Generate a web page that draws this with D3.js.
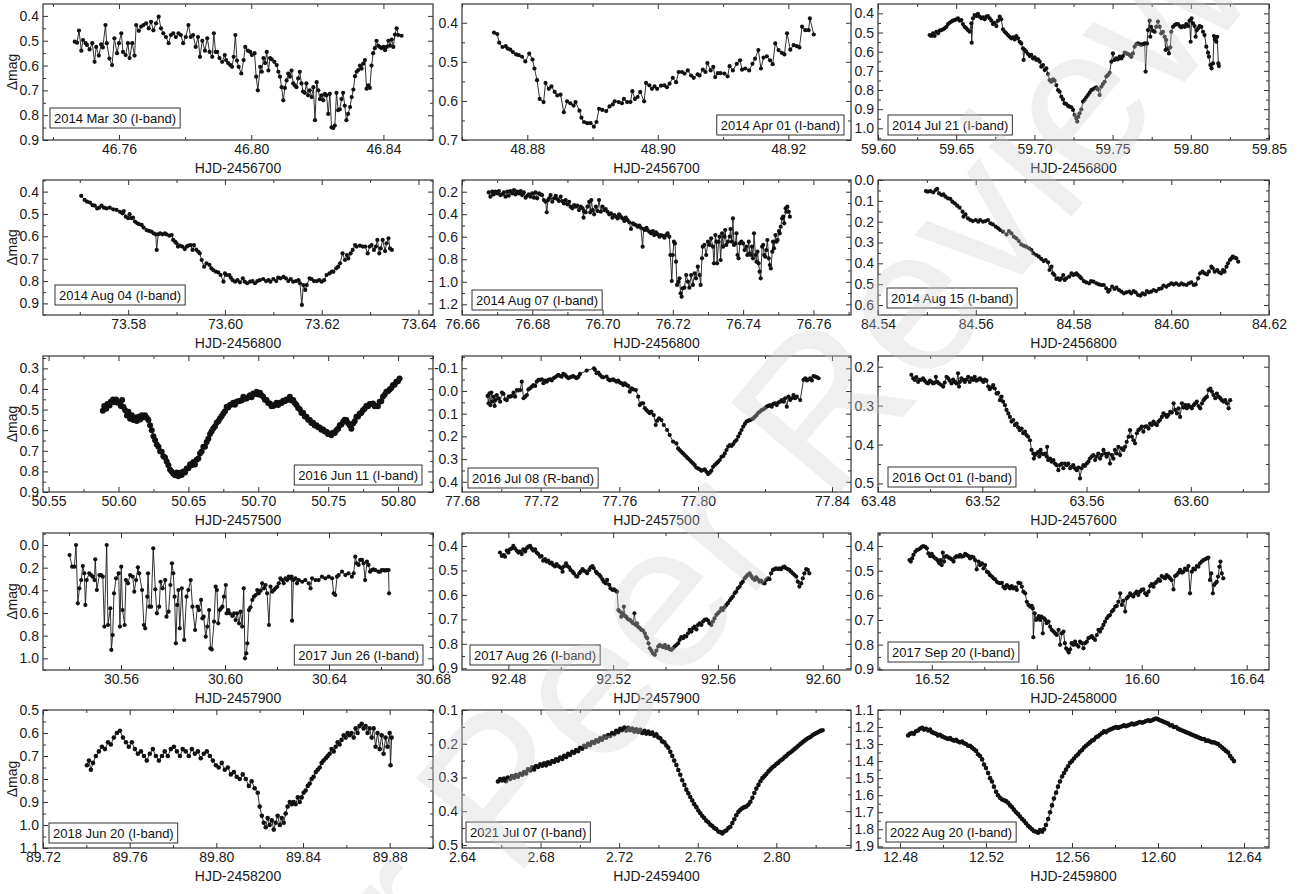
<!DOCTYPE html>
<html>
<head>
<meta charset="utf-8">
<script src="https://cdn.jsdelivr.net/npm/d3@7"></script>
<style>
  body { margin: 0; background: #fff; }
  text { font-family: "Liberation Sans", Arial, Helvetica, sans-serif; }
</style>
</head>
<body>
<svg id="fig" width="1311" height="894"></svg>
<script>
// ---- Light curves: [HJD offset, delta magnitude] ----
const mar30 = [[46.7466,0.504],[46.7473,0.508],[46.7479,0.459],[46.7486,0.54],[46.7491,0.497],[46.7499,0.51],[46.7503,0.517],[46.7511,0.535],[46.7519,0.51],[46.7526,0.585],[46.7531,0.525],[46.7539,0.56],[46.7546,0.515],[46.7551,0.527],[46.7559,0.437],[46.7563,0.51],[46.7571,0.572],[46.7579,0.598],[46.7586,0.49],[46.7594,0.55],[46.76,0.51],[46.7607,0.47],[46.7612,0.545],[46.762,0.558],[46.7627,0.51],[46.7632,0.57],[46.764,0.51],[46.7647,0.56],[46.7652,0.437],[46.766,0.46],[46.7667,0.443],[46.7674,0.437],[46.7682,0.43],[46.769,0.45],[46.7697,0.424],[46.7704,0.458],[46.7712,0.43],[46.772,0.403],[46.7727,0.45],[46.7734,0.47],[46.7742,0.485],[46.775,0.51],[46.7757,0.477],[46.7764,0.47],[46.7772,0.485],[46.778,0.47],[46.7787,0.477],[46.7794,0.51],[46.7802,0.485],[46.781,0.437],[46.7817,0.485],[46.7824,0.477],[46.7832,0.525],[46.7839,0.485],[46.7845,0.565],[46.7852,0.5],[46.786,0.54],[46.7867,0.49],[46.7874,0.545],[46.7882,0.565],[46.7887,0.47],[46.7892,0.545],[46.7897,0.545],[46.7904,0.57],[46.7912,0.585],[46.792,0.558],[46.7924,0.578],[46.793,0.59],[46.7937,0.598],[46.7942,0.605],[46.7947,0.565],[46.7952,0.477],[46.7957,0.58],[46.7962,0.605],[46.797,0.632],[46.7977,0.578],[46.7982,0.525],[46.799,0.54],[46.7997,0.545],[46.8002,0.558],[46.801,0.55],[46.8015,0.645],[46.802,0.7],[46.8027,0.605],[46.8032,0.625],[46.8037,0.57],[46.8042,0.59],[46.8047,0.545],[46.8052,0.62],[46.8057,0.57],[46.8062,0.575],[46.807,0.585],[46.8077,0.598],[46.8082,0.625],[46.8087,0.645],[46.8092,0.687],[46.8097,0.74],[46.8102,0.69],[46.8107,0.66],[46.8112,0.632],[46.8117,0.645],[46.8122,0.62],[46.8127,0.672],[46.8132,0.68],[46.8137,0.687],[46.8142,0.652],[46.8147,0.625],[46.8152,0.672],[46.8157,0.705],[46.8162,0.71],[46.8167,0.672],[46.8172,0.72],[46.8177,0.7],[46.8183,0.727],[46.8188,0.687],[46.8193,0.82],[46.8198,0.667],[46.8203,0.7],[46.8208,0.735],[46.8213,0.72],[46.8218,0.74],[46.8223,0.714],[46.8228,0.72],[46.8233,0.795],[46.8238,0.714],[46.8243,0.849],[46.8248,0.852],[46.8253,0.842],[46.8258,0.71],[46.8263,0.78],[46.8268,0.776],[46.8273,0.735],[46.8278,0.71],[46.8283,0.762],[46.8288,0.82],[46.8293,0.795],[46.8299,0.767],[46.8304,0.727],[46.8309,0.697],[46.8314,0.643],[46.8319,0.625],[46.8324,0.618],[46.8329,0.6],[46.8334,0.612],[46.8339,0.592],[46.8344,0.578],[46.8349,0.693],[46.8354,0.68],[46.8359,0.69],[46.8364,0.6],[46.8369,0.55],[46.8374,0.53],[46.8379,0.5],[46.8384,0.52],[46.8389,0.525],[46.8394,0.53],[46.84,0.525],[46.8405,0.538],[46.841,0.525],[46.8415,0.5],[46.842,0.52],[46.8425,0.495],[46.843,0.525],[46.8435,0.475],[46.844,0.45],[46.8445,0.477],[46.8455,0.48]];

const apr01 = [[48.8749,0.425],[48.8754,0.429],[48.8757,0.451],[48.8762,0.462],[48.8767,0.460],[48.8770,0.466],[48.8774,0.469],[48.8778,0.475],[48.8783,0.481],[48.8787,0.483],[48.8792,0.487],[48.8797,0.499],[48.8803,0.479],[48.8808,0.494],[48.8811,0.517],[48.8815,0.547],[48.8819,0.595],[48.8825,0.603],[48.8828,0.554],[48.8833,0.569],[48.8837,0.563],[48.8842,0.577],[48.8846,0.586],[48.8851,0.584],[48.8856,0.629],[48.8861,0.601],[48.8866,0.606],[48.8871,0.612],[48.8874,0.603],[48.8880,0.625],[48.8883,0.643],[48.8887,0.654],[48.8892,0.657],[48.8897,0.657],[48.8902,0.666],[48.8906,0.654],[48.8910,0.620],[48.8915,0.623],[48.8921,0.626],[48.8926,0.614],[48.8931,0.609],[48.8934,0.601],[48.8940,0.603],[48.8945,0.606],[48.8948,0.595],[48.8953,0.603],[48.8958,0.603],[48.8961,0.575],[48.8965,0.595],[48.8969,0.590],[48.8973,0.577],[48.8979,0.601],[48.8982,0.554],[48.8987,0.560],[48.8991,0.569],[48.8995,0.563],[48.8999,0.569],[48.9005,0.561],[48.9010,0.560],[48.9014,0.565],[48.9018,0.556],[48.9023,0.541],[48.9028,0.552],[48.9032,0.526],[48.9037,0.526],[48.9041,0.530],[48.9046,0.522],[48.9051,0.535],[48.9055,0.541],[48.9061,0.532],[48.9064,0.535],[48.9069,0.520],[48.9073,0.526],[48.9076,0.503],[48.9081,0.522],[48.9085,0.513],[48.9088,0.539],[48.9092,0.529],[48.9096,0.529],[48.9102,0.530],[48.9107,0.537],[48.9110,0.511],[48.9115,0.522],[48.9121,0.505],[48.9126,0.496],[48.9129,0.520],[48.9134,0.517],[48.9140,0.522],[48.9145,0.505],[48.9149,0.492],[48.9154,0.470],[48.9158,0.517],[48.9162,0.489],[48.9167,0.486],[48.9172,0.496],[48.9176,0.506],[48.9180,0.453],[48.9185,0.470],[48.9190,0.477],[48.9194,0.481],[48.9198,0.427],[48.9203,0.469],[48.9208,0.457],[48.9213,0.460],[48.9217,0.463],[48.9221,0.410],[48.9226,0.419],[48.9231,0.419],[48.9233,0.389],[48.9239,0.430]];

const jul21 = [[59.6330,0.513],[59.6341,0.518],[59.6352,0.504],[59.6362,0.518],[59.6373,0.496],[59.6384,0.504],[59.6394,0.490],[59.6405,0.487],[59.6416,0.483],[59.6426,0.478],[59.6437,0.470],[59.6448,0.456],[59.6458,0.449],[59.6469,0.443],[59.6479,0.438],[59.6490,0.435],[59.6501,0.431],[59.6511,0.426],[59.6522,0.438],[59.6533,0.435],[59.6543,0.456],[59.6554,0.470],[59.6565,0.478],[59.6575,0.487],[59.6586,0.496],[59.6597,0.452],[59.6599,0.553],[59.6607,0.426],[59.6618,0.409],[59.6629,0.414],[59.6639,0.403],[59.6650,0.417],[59.6661,0.426],[59.6671,0.421],[59.6682,0.431],[59.6693,0.417],[59.6703,0.414],[59.6714,0.426],[59.6725,0.438],[59.6735,0.456],[59.6746,0.449],[59.6757,0.466],[59.6767,0.438],[59.6778,0.417],[59.6788,0.431],[59.6799,0.483],[59.6810,0.496],[59.6820,0.504],[59.6831,0.513],[59.6842,0.522],[59.6852,0.530],[59.6863,0.525],[59.6874,0.536],[59.6884,0.518],[59.6895,0.530],[59.6906,0.548],[59.6916,0.557],[59.6927,0.583],[59.6931,0.643],[59.6938,0.591],[59.6948,0.600],[59.6959,0.612],[59.6970,0.623],[59.6980,0.617],[59.6991,0.635],[59.7002,0.630],[59.7012,0.643],[59.7023,0.640],[59.7034,0.652],[59.7044,0.678],[59.7055,0.670],[59.7066,0.696],[59.7076,0.687],[59.7087,0.717],[59.7097,0.748],[59.7108,0.757],[59.7119,0.744],[59.7129,0.751],[59.7140,0.774],[59.7151,0.800],[59.7161,0.809],[59.7172,0.835],[59.7183,0.849],[59.7193,0.870],[59.7204,0.873],[59.7215,0.883],[59.7225,0.887],[59.7236,0.890],[59.7247,0.904],[59.7257,0.930],[59.7268,0.948],[59.7274,0.965],[59.7281,0.939],[59.7289,0.922],[59.7300,0.901],[59.7311,0.861],[59.7321,0.852],[59.7332,0.838],[59.7343,0.826],[59.7353,0.814],[59.7364,0.800],[59.7374,0.797],[59.7385,0.791],[59.7396,0.786],[59.7406,0.797],[59.7417,0.826],[59.7428,0.783],[59.7438,0.769],[59.7449,0.757],[59.7460,0.730],[59.7470,0.722],[59.7481,0.710],[59.7492,0.652],[59.7502,0.609],[59.7513,0.643],[59.7524,0.635],[59.7534,0.640],[59.7545,0.626],[59.7556,0.635],[59.7566,0.623],[59.7577,0.605],[59.7588,0.609],[59.7598,0.612],[59.7609,0.617],[59.7620,0.626],[59.7630,0.609],[59.7641,0.574],[59.7652,0.560],[59.7662,0.557],[59.7673,0.560],[59.7683,0.565],[59.7694,0.560],[59.7705,0.557],[59.7711,0.704],[59.7720,0.557],[59.7726,0.487],[59.7737,0.438],[59.7741,0.522],[59.7747,0.470],[59.7758,0.490],[59.7769,0.496],[59.7779,0.470],[59.7790,0.443],[59.7801,0.470],[59.7811,0.504],[59.7822,0.496],[59.7833,0.522],[59.7839,0.591],[59.7843,0.539],[59.7854,0.583],[59.7860,0.609],[59.7869,0.577],[59.7875,0.496],[59.7886,0.470],[59.7897,0.461],[59.7907,0.456],[59.7918,0.456],[59.7929,0.466],[59.7939,0.473],[59.7950,0.466],[59.7961,0.470],[59.7971,0.456],[59.7982,0.466],[59.7992,0.438],[59.7999,0.548],[59.8005,0.426],[59.8014,0.452],[59.8024,0.466],[59.8031,0.522],[59.8039,0.487],[59.8048,0.478],[59.8056,0.466],[59.8067,0.470],[59.8078,0.496],[59.8088,0.513],[59.8099,0.574],[59.8110,0.605],[59.8116,0.626],[59.8125,0.670],[59.8133,0.687],[59.8142,0.661],[59.8148,0.518],[59.8154,0.536],[59.8163,0.548],[59.8169,0.522],[59.8176,0.661],[59.8180,0.675]];

const aug04 = [[73.5703,0.419],[73.5710,0.437],[73.5715,0.445],[73.5721,0.449],[73.5726,0.460],[73.5731,0.463],[73.5736,0.475],[73.5740,0.472],[73.5745,0.463],[73.5750,0.472],[73.5755,0.475],[73.5762,0.472],[73.5769,0.479],[73.5776,0.482],[73.5783,0.490],[73.5788,0.497],[73.5791,0.487],[73.5795,0.512],[73.5800,0.519],[73.5803,0.501],[73.5807,0.519],[73.5810,0.516],[73.5814,0.534],[73.5819,0.542],[73.5823,0.546],[73.5828,0.549],[73.5832,0.561],[73.5838,0.572],[73.5843,0.576],[73.5848,0.579],[73.5853,0.587],[73.5857,0.591],[73.5859,0.661],[73.5862,0.591],[73.5866,0.587],[73.5871,0.591],[73.5876,0.587],[73.5879,0.591],[73.5885,0.597],[73.5890,0.594],[73.5893,0.616],[73.5897,0.624],[73.5900,0.631],[73.5903,0.646],[73.5907,0.642],[73.5912,0.646],[73.5917,0.657],[73.5921,0.646],[73.5924,0.642],[73.5929,0.639],[73.5933,0.661],[73.5936,0.639],[73.5941,0.661],[73.5945,0.669],[73.5948,0.676],[73.5952,0.706],[73.5957,0.736],[73.5962,0.721],[73.5968,0.728],[73.5972,0.743],[73.5976,0.751],[73.5981,0.758],[73.5986,0.761],[73.5991,0.773],[73.5997,0.803],[73.6000,0.766],[73.6003,0.773],[73.6009,0.773],[73.6012,0.785],[73.6016,0.796],[73.6021,0.803],[73.6026,0.796],[73.6031,0.806],[73.6037,0.788],[73.6041,0.803],[73.6046,0.810],[73.6052,0.803],[73.6057,0.800],[73.6062,0.810],[73.6067,0.800],[73.6072,0.796],[73.6079,0.791],[73.6085,0.800],[73.6090,0.796],[73.6094,0.803],[73.6100,0.791],[73.6106,0.800],[73.6110,0.785],[73.6115,0.788],[73.6121,0.781],[73.6126,0.788],[73.6131,0.800],[73.6136,0.791],[73.6141,0.803],[73.6147,0.800],[73.6152,0.796],[73.6155,0.810],[73.6159,0.907],[73.6162,0.818],[73.6166,0.840],[73.6169,0.818],[73.6175,0.788],[73.6179,0.791],[73.6184,0.800],[73.6190,0.800],[73.6195,0.796],[73.6200,0.803],[73.6205,0.796],[73.6210,0.773],[73.6216,0.766],[73.6221,0.758],[73.6224,0.758],[73.6230,0.743],[73.6234,0.736],[73.6238,0.721],[73.6243,0.676],[73.6248,0.706],[73.6252,0.684],[73.6255,0.699],[73.6260,0.676],[73.6264,0.661],[73.6269,0.639],[73.6272,0.646],[73.6279,0.642],[73.6285,0.646],[73.6290,0.646],[73.6295,0.676],[73.6299,0.646],[73.6303,0.639],[73.6308,0.661],[73.6312,0.646],[73.6315,0.616],[73.6319,0.676],[73.6322,0.654],[73.6326,0.616],[73.6331,0.666],[73.6334,0.631],[73.6338,0.609],[73.6341,0.654],[73.6345,0.661]];

const aug07 = [[76.6676,0.206],[76.6681,0.244],[76.6686,0.200],[76.6690,0.224],[76.6695,0.200],[76.6700,0.215],[76.6705,0.194],[76.6709,0.230],[76.6714,0.224],[76.6719,0.206],[76.6724,0.244],[76.6729,0.200],[76.6733,0.236],[76.6738,0.194],[76.6743,0.215],[76.6748,0.185],[76.6752,0.224],[76.6757,0.200],[76.6762,0.215],[76.6767,0.194],[76.6771,0.230],[76.6776,0.206],[76.6781,0.253],[76.6786,0.236],[76.6790,0.224],[76.6795,0.244],[76.6800,0.215],[76.6805,0.253],[76.6809,0.206],[76.6814,0.259],[76.6819,0.215],[76.6824,0.224],[76.6828,0.230],[76.6833,0.274],[76.6838,0.289],[76.6841,0.383],[76.6845,0.274],[76.6848,0.259],[76.6852,0.230],[76.6857,0.289],[76.6862,0.259],[76.6867,0.236],[76.6871,0.265],[76.6876,0.283],[76.6881,0.244],[76.6886,0.283],[76.6890,0.304],[76.6895,0.274],[76.6900,0.312],[76.6905,0.289],[76.6909,0.333],[76.6914,0.348],[76.6919,0.318],[76.6924,0.333],[76.6928,0.324],[76.6933,0.363],[76.6938,0.333],[76.6943,0.348],[76.6946,0.431],[76.6947,0.372],[76.6952,0.383],[76.6957,0.333],[76.6962,0.289],[76.6965,0.383],[76.6968,0.274],[76.6972,0.363],[76.6976,0.401],[76.6981,0.333],[76.6986,0.372],[76.6990,0.274],[76.6995,0.378],[76.7000,0.333],[76.7005,0.363],[76.7009,0.354],[76.7014,0.378],[76.7019,0.401],[76.7024,0.392],[76.7028,0.431],[76.7033,0.407],[76.7038,0.422],[76.7043,0.437],[76.7047,0.401],[76.7052,0.422],[76.7057,0.437],[76.7062,0.460],[76.7066,0.431],[76.7071,0.452],[76.7076,0.472],[76.7081,0.531],[76.7086,0.481],[76.7090,0.490],[76.7095,0.496],[76.7100,0.511],[76.7105,0.502],[76.7109,0.520],[76.7114,0.688],[76.7117,0.531],[76.7121,0.540],[76.7125,0.520],[76.7128,0.540],[76.7133,0.555],[76.7138,0.570],[76.7143,0.549],[76.7147,0.585],[76.7152,0.561],[76.7157,0.579],[76.7162,0.599],[76.7166,0.585],[76.7171,0.591],[76.7176,0.608],[76.7181,0.585],[76.7185,0.570],[76.7190,0.599],[76.7193,0.762],[76.7197,0.993],[76.7200,0.762],[76.7203,0.644],[76.7206,0.659],[76.7209,0.821],[76.7212,1.028],[76.7216,0.999],[76.7219,0.969],[76.7222,1.102],[76.7225,1.132],[76.7228,1.058],[76.7233,1.052],[76.7238,0.940],[76.7243,0.999],[76.7247,1.052],[76.7252,0.940],[76.7257,1.028],[76.7262,0.925],[76.7266,0.969],[76.7271,0.866],[76.7276,0.940],[76.7279,1.028],[76.7283,0.792],[76.7285,0.688],[76.7290,0.673],[76.7295,0.762],[76.7300,0.644],[76.7305,0.673],[76.7309,0.614],[76.7314,0.688],[76.7317,0.836],[76.7321,0.585],[76.7324,0.644],[76.7326,0.836],[76.7330,0.644],[76.7333,0.599],[76.7336,0.807],[76.7340,0.570],[76.7343,0.688],[76.7347,0.599],[76.7349,0.540],[76.7352,0.673],[76.7357,0.644],[76.7362,0.599],[76.7364,0.531],[76.7368,0.644],[76.7371,0.437],[76.7374,0.673],[76.7378,0.659],[76.7381,0.570],[76.7384,0.762],[76.7387,0.792],[76.7391,0.659],[76.7395,0.644],[76.7400,0.659],[76.7404,0.718],[76.7409,0.688],[76.7412,0.762],[76.7416,0.644],[76.7419,0.747],[76.7422,0.762],[76.7425,0.688],[76.7428,0.792],[76.7431,0.570],[76.7435,0.762],[76.7438,0.821],[76.7441,0.733],[76.7444,0.836],[76.7447,0.910],[76.7450,0.969],[76.7454,0.688],[76.7457,0.673],[76.7460,0.762],[76.7463,0.777],[76.7466,0.718],[76.7469,0.629],[76.7473,0.792],[76.7476,0.851],[76.7479,0.881],[76.7483,0.733],[76.7485,0.644],[76.7488,0.703],[76.7492,0.585],[76.7495,0.644],[76.7498,0.629],[76.7502,0.549],[76.7504,0.570],[76.7507,0.511],[76.7511,0.437],[76.7514,0.422],[76.7517,0.481],[76.7521,0.348],[76.7523,0.378],[76.7526,0.333],[76.7530,0.378],[76.7533,0.422]];

const aug15 = [[84.5498,0.053],[84.5502,0.056],[84.5507,0.053],[84.5513,0.059],[84.5518,0.048],[84.5521,0.043],[84.5525,0.064],[84.5530,0.072],[84.5534,0.069],[84.5538,0.080],[84.5543,0.088],[84.5548,0.091],[84.5552,0.104],[84.5557,0.112],[84.5562,0.123],[84.5567,0.133],[84.5573,0.152],[84.5575,0.176],[84.5579,0.165],[84.5584,0.184],[84.5589,0.192],[84.5594,0.197],[84.5600,0.192],[84.5605,0.200],[84.5609,0.192],[84.5615,0.200],[84.5620,0.197],[84.5625,0.192],[84.5630,0.208],[84.5635,0.213],[84.5641,0.224],[84.5646,0.232],[84.5650,0.240],[84.5656,0.248],[84.5663,0.261],[84.5668,0.245],[84.5673,0.256],[84.5678,0.272],[84.5683,0.280],[84.5688,0.293],[84.5693,0.309],[84.5698,0.315],[84.5703,0.320],[84.5709,0.328],[84.5714,0.336],[84.5718,0.352],[84.5724,0.360],[84.5729,0.368],[84.5734,0.379],[84.5739,0.389],[84.5743,0.384],[84.5748,0.395],[84.5751,0.432],[84.5755,0.416],[84.5758,0.448],[84.5761,0.456],[84.5765,0.475],[84.5768,0.472],[84.5772,0.480],[84.5775,0.472],[84.5779,0.456],[84.5782,0.480],[84.5785,0.472],[84.5791,0.464],[84.5796,0.448],[84.5799,0.456],[84.5802,0.453],[84.5806,0.448],[84.5809,0.456],[84.5813,0.464],[84.5816,0.472],[84.5821,0.485],[84.5826,0.491],[84.5832,0.496],[84.5836,0.485],[84.5841,0.488],[84.5847,0.496],[84.5852,0.501],[84.5857,0.504],[84.5862,0.504],[84.5867,0.520],[84.5871,0.536],[84.5874,0.528],[84.5879,0.512],[84.5884,0.523],[84.5888,0.517],[84.5893,0.528],[84.5898,0.536],[84.5903,0.544],[84.5908,0.539],[84.5914,0.536],[84.5918,0.544],[84.5923,0.533],[84.5927,0.539],[84.5932,0.552],[84.5937,0.555],[84.5941,0.544],[84.5946,0.549],[84.5950,0.533],[84.5954,0.539],[84.5959,0.536],[84.5964,0.528],[84.5969,0.533],[84.5975,0.523],[84.5980,0.520],[84.5984,0.507],[84.5990,0.512],[84.5995,0.504],[84.6000,0.496],[84.6005,0.501],[84.6010,0.496],[84.6016,0.504],[84.6021,0.496],[84.6025,0.501],[84.6031,0.504],[84.6036,0.496],[84.6041,0.491],[84.6046,0.504],[84.6050,0.501],[84.6055,0.472],[84.6059,0.448],[84.6064,0.440],[84.6068,0.448],[84.6073,0.453],[84.6077,0.440],[84.6082,0.416],[84.6085,0.424],[84.6089,0.440],[84.6094,0.432],[84.6098,0.443],[84.6102,0.448],[84.6106,0.432],[84.6109,0.440],[84.6113,0.416],[84.6116,0.400],[84.6120,0.384],[84.6123,0.376],[84.6126,0.368],[84.6130,0.373],[84.6133,0.376],[84.6137,0.392]];

const jun11 = [[50.5888,0.506],[50.5898,0.483],[50.5912,0.496],[50.5921,0.473],[50.5936,0.480],[50.5945,0.462],[50.5960,0.451],[50.5969,0.464],[50.5983,0.451],[50.5993,0.467],[50.6007,0.467],[50.6017,0.483],[50.6026,0.454],[50.6036,0.488],[50.6048,0.503],[50.6060,0.529],[50.6071,0.511],[50.6083,0.545],[50.6095,0.527],[50.6107,0.551],[50.6119,0.538],[50.6131,0.556],[50.6143,0.535],[50.6155,0.548],[50.6167,0.527],[50.6179,0.537],[50.6190,0.527],[50.6202,0.540],[50.6214,0.551],[50.6226,0.576],[50.6238,0.600],[50.6250,0.630],[50.6262,0.649],[50.6274,0.670],[50.6286,0.681],[50.6298,0.702],[50.6309,0.705],[50.6321,0.726],[50.6333,0.733],[50.6345,0.752],[50.6357,0.770],[50.6369,0.792],[50.6381,0.802],[50.6393,0.812],[50.6405,0.819],[50.6417,0.805],[50.6428,0.824],[50.6440,0.806],[50.6452,0.818],[50.6464,0.800],[50.6476,0.805],[50.6488,0.786],[50.6500,0.785],[50.6512,0.765],[50.6524,0.770],[50.6536,0.754],[50.6547,0.766],[50.6559,0.743],[50.6571,0.738],[50.6583,0.713],[50.6595,0.703],[50.6607,0.681],[50.6619,0.680],[50.6631,0.657],[50.6643,0.642],[50.6655,0.619],[50.6666,0.606],[50.6678,0.592],[50.6690,0.582],[50.6702,0.564],[50.6714,0.557],[50.6726,0.543],[50.6738,0.532],[50.6750,0.519],[50.6762,0.508],[50.6774,0.486],[50.6785,0.490],[50.6797,0.478],[50.6809,0.475],[50.6821,0.467],[50.6833,0.476],[50.6845,0.462],[50.6857,0.460],[50.6869,0.457],[50.6881,0.456],[50.6893,0.438],[50.6904,0.447],[50.6916,0.446],[50.6928,0.440],[50.6940,0.430],[50.6952,0.440],[50.6964,0.422],[50.6976,0.424],[50.6988,0.413],[50.7000,0.427],[50.7012,0.418],[50.7023,0.430],[50.7035,0.438],[50.7047,0.452],[50.7059,0.454],[50.7071,0.468],[50.7083,0.470],[50.7095,0.484],[50.7107,0.483],[50.7119,0.476],[50.7131,0.467],[50.7142,0.478],[50.7154,0.467],[50.7166,0.468],[50.7178,0.457],[50.7190,0.460],[50.7202,0.451],[50.7214,0.452],[50.7226,0.438],[50.7238,0.456],[50.7250,0.454],[50.7261,0.468],[50.7273,0.478],[50.7285,0.492],[50.7297,0.499],[50.7309,0.517],[50.7321,0.516],[50.7333,0.533],[50.7345,0.535],[50.7357,0.549],[50.7369,0.551],[50.7380,0.565],[50.7392,0.564],[50.7404,0.577],[50.7416,0.576],[50.7428,0.586],[50.7440,0.587],[50.7452,0.598],[50.7464,0.597],[50.7476,0.606],[50.7488,0.608],[50.7499,0.619],[50.7511,0.616],[50.7523,0.625],[50.7535,0.613],[50.7547,0.614],[50.7559,0.600],[50.7571,0.593],[50.7583,0.576],[50.7595,0.573],[50.7607,0.559],[50.7618,0.549],[50.7630,0.551],[50.7642,0.565],[50.7654,0.576],[50.7666,0.593],[50.7678,0.567],[50.7690,0.557],[50.7702,0.535],[50.7714,0.533],[50.7726,0.519],[50.7737,0.517],[50.7749,0.503],[50.7761,0.496],[50.7773,0.483],[50.7785,0.484],[50.7797,0.473],[50.7809,0.473],[50.7821,0.470],[50.7833,0.484],[50.7845,0.483],[50.7856,0.484],[50.7868,0.462],[50.7880,0.460],[50.7892,0.438],[50.7904,0.428],[50.7916,0.413],[50.7928,0.411],[50.7940,0.402],[50.7952,0.395],[50.7964,0.381],[50.7975,0.379],[50.7987,0.365],[50.7999,0.363],[50.8011,0.349]];

const jul08 = [[77.6930,0.022],[77.6935,0.054],[77.6940,0.010],[77.6944,0.062],[77.6949,0.007],[77.6954,0.047],[77.6961,0.025],[77.6966,0.066],[77.6971,0.040],[77.6977,0.018],[77.6986,0.032],[77.6994,0.047],[77.7003,0.007],[77.7011,0.013],[77.7020,0.037],[77.7028,0.040],[77.7037,0.025],[77.7045,0.025],[77.7054,0.022],[77.7062,0.007],[77.7070,0.025],[77.7079,-0.004],[77.7087,-0.002],[77.7096,-0.004],[77.7104,-0.041],[77.7113,0.032],[77.7121,0.025],[77.7130,0.018],[77.7138,-0.007],[77.7146,-0.012],[77.7155,-0.019],[77.7163,-0.026],[77.7172,-0.022],[77.7180,-0.041],[77.7189,-0.049],[77.7197,-0.049],[77.7206,-0.051],[77.7214,-0.034],[77.7223,-0.046],[77.7231,-0.041],[77.7239,-0.049],[77.7248,-0.051],[77.7256,-0.046],[77.7265,-0.056],[77.7273,-0.060],[77.7282,-0.066],[77.7290,-0.071],[77.7299,-0.066],[77.7307,-0.063],[77.7315,-0.075],[77.7324,-0.071],[77.7332,-0.063],[77.7341,-0.056],[77.7349,-0.060],[77.7358,-0.063],[77.7366,-0.066],[77.7375,-0.060],[77.7383,-0.056],[77.7392,-0.063],[77.7400,-0.075],[77.7434,-0.090],[77.7471,-0.100],[77.7476,-0.093],[77.7484,-0.078],[77.7493,-0.081],[77.7501,-0.071],[77.7510,-0.063],[77.7518,-0.060],[77.7535,-0.063],[77.7544,-0.051],[77.7552,-0.046],[77.7561,-0.049],[77.7569,-0.051],[77.7577,-0.046],[77.7586,-0.041],[77.7594,-0.046],[77.7603,-0.037],[77.7611,-0.034],[77.7620,-0.026],[77.7628,-0.034],[77.7637,-0.026],[77.7645,-0.022],[77.7653,0.003],[77.7662,-0.012],[77.7670,-0.007],[77.7684,-0.004],[77.7696,0.025],[77.7704,0.062],[77.7713,0.054],[77.7721,0.054],[77.7730,0.076],[77.7738,0.084],[77.7746,0.091],[77.7755,0.098],[77.7763,0.091],[77.7775,0.106],[77.7785,0.150],[77.7792,0.131],[77.7802,0.121],[77.7814,0.128],[77.7826,0.150],[77.7843,0.172],[77.7856,0.194],[77.7873,0.223],[77.7890,0.231],[77.7899,0.253],[77.7907,0.260],[77.7915,0.268],[77.7924,0.275],[77.7932,0.282],[77.7941,0.290],[77.7949,0.297],[77.7958,0.304],[77.7966,0.312],[77.7975,0.319],[77.7983,0.326],[77.7991,0.337],[77.8000,0.341],[77.8005,0.345],[77.8010,0.351],[77.8015,0.348],[77.8020,0.345],[77.8025,0.356],[77.8030,0.366],[77.8035,0.360],[77.8040,0.351],[77.8045,0.334],[77.8050,0.326],[77.8055,0.319],[77.8060,0.312],[77.8065,0.304],[77.8070,0.290],[77.8075,0.287],[77.8080,0.275],[77.8085,0.260],[77.8090,0.245],[77.8095,0.238],[77.8100,0.242],[77.8105,0.234],[77.8110,0.223],[77.8115,0.216],[77.8120,0.201],[77.8125,0.187],[77.8130,0.172],[77.8135,0.157],[77.8140,0.145],[77.8145,0.135],[77.8150,0.131],[77.8155,0.128],[77.8160,0.125],[77.8165,0.121],[77.8170,0.113],[77.8175,0.106],[77.8180,0.096],[77.8185,0.091],[77.8190,0.084],[77.8195,0.081],[77.8200,0.076],[77.8205,0.069],[77.8210,0.066],[77.8215,0.062],[77.8220,0.069],[77.8225,0.057],[77.8230,0.054],[77.8235,0.062],[77.8240,0.051],[77.8245,0.047],[77.8250,0.040],[77.8255,0.047],[77.8260,0.032],[77.8265,0.069],[77.8270,0.025],[77.8275,0.040],[77.8280,0.032],[77.8285,0.018],[77.8290,0.032],[77.8295,0.025],[77.8305,0.040],[77.8315,-0.049],[77.8320,-0.056],[77.8325,-0.046],[77.8330,-0.051],[77.8335,-0.056],[77.8340,-0.046],[77.8345,-0.066],[77.8350,-0.063],[77.8355,-0.060],[77.8360,-0.056]];

const oct01 = [[63.4928,0.221],[63.4935,0.230],[63.4941,0.234],[63.4947,0.227],[63.4954,0.239],[63.4960,0.234],[63.4967,0.233],[63.4973,0.230],[63.4979,0.236],[63.4986,0.241],[63.4992,0.243],[63.4999,0.236],[63.5005,0.239],[63.5011,0.243],[63.5018,0.241],[63.5022,0.226],[63.5027,0.239],[63.5034,0.243],[63.5043,0.247],[63.5050,0.251],[63.5056,0.241],[63.5063,0.226],[63.5069,0.230],[63.5075,0.236],[63.5082,0.243],[63.5088,0.233],[63.5095,0.239],[63.5101,0.243],[63.5107,0.217],[63.5111,0.251],[63.5114,0.239],[63.5120,0.230],[63.5127,0.234],[63.5133,0.239],[63.5139,0.233],[63.5146,0.226],[63.5152,0.239],[63.5159,0.230],[63.5165,0.234],[63.5171,0.226],[63.5178,0.236],[63.5184,0.233],[63.5191,0.230],[63.5197,0.234],[63.5204,0.239],[63.5210,0.233],[63.5216,0.236],[63.5223,0.251],[63.5229,0.258],[63.5236,0.253],[63.5242,0.247],[63.5248,0.256],[63.5255,0.269],[63.5261,0.267],[63.5268,0.286],[63.5274,0.277],[63.5280,0.290],[63.5287,0.299],[63.5293,0.311],[63.5300,0.320],[63.5306,0.329],[63.5312,0.341],[63.5319,0.337],[63.5325,0.350],[63.5332,0.346],[63.5338,0.356],[63.5344,0.363],[63.5351,0.359],[63.5357,0.371],[63.5364,0.367],[63.5370,0.376],[63.5376,0.380],[63.5383,0.389],[63.5389,0.414],[63.5396,0.423],[63.5398,0.436],[63.5402,0.427],[63.5408,0.423],[63.5415,0.419],[63.5419,0.431],[63.5424,0.414],[63.5428,0.423],[63.5434,0.425],[63.5441,0.423],[63.5447,0.431],[63.5449,0.406],[63.5453,0.440],[63.5460,0.436],[63.5466,0.444],[63.5473,0.440],[63.5479,0.449],[63.5485,0.453],[63.5492,0.466],[63.5498,0.453],[63.5505,0.449],[63.5511,0.461],[63.5517,0.449],[63.5524,0.453],[63.5530,0.449],[63.5537,0.461],[63.5543,0.457],[63.5549,0.453],[63.5556,0.461],[63.5562,0.466],[63.5569,0.459],[63.5575,0.487],[63.5581,0.461],[63.5588,0.453],[63.5594,0.455],[63.5601,0.449],[63.5607,0.444],[63.5613,0.436],[63.5620,0.431],[63.5626,0.427],[63.5633,0.440],[63.5639,0.431],[63.5645,0.423],[63.5652,0.436],[63.5658,0.427],[63.5665,0.414],[63.5671,0.423],[63.5677,0.431],[63.5684,0.423],[63.5690,0.449],[63.5697,0.427],[63.5703,0.436],[63.5709,0.414],[63.5716,0.423],[63.5722,0.406],[63.5729,0.427],[63.5735,0.410],[63.5742,0.414],[63.5748,0.406],[63.5754,0.393],[63.5761,0.380],[63.5767,0.363],[63.5774,0.380],[63.5780,0.389],[63.5786,0.397],[63.5793,0.371],[63.5799,0.363],[63.5806,0.359],[63.5812,0.354],[63.5818,0.367],[63.5825,0.354],[63.5831,0.353],[63.5838,0.359],[63.5844,0.346],[63.5850,0.350],[63.5857,0.341],[63.5863,0.347],[63.5870,0.350],[63.5876,0.341],[63.5882,0.337],[63.5889,0.329],[63.5895,0.320],[63.5902,0.324],[63.5908,0.329],[63.5914,0.324],[63.5921,0.316],[63.5927,0.318],[63.5934,0.294],[63.5940,0.311],[63.5947,0.320],[63.5953,0.307],[63.5959,0.329],[63.5966,0.294],[63.5972,0.305],[63.5979,0.299],[63.5985,0.307],[63.5991,0.299],[63.5998,0.303],[63.6004,0.307],[63.6011,0.299],[63.6017,0.294],[63.6023,0.290],[63.6030,0.301],[63.6036,0.307],[63.6043,0.294],[63.6049,0.286],[63.6055,0.281],[63.6062,0.277],[63.6068,0.260],[63.6075,0.256],[63.6081,0.264],[63.6087,0.273],[63.6094,0.281],[63.6100,0.269],[63.6107,0.277],[63.6113,0.281],[63.6119,0.286],[63.6126,0.290],[63.6132,0.286],[63.6139,0.294],[63.6145,0.307],[63.6151,0.286]];

const jun26 = [[30.5402,0.088],[30.5412,0.191],[30.5421,0.191],[30.5427,0.0],[30.5434,0.515],[30.5440,0.382],[30.5447,0.309],[30.5453,0.185],[30.5459,0.25],[30.5463,0.529],[30.5468,0.309],[30.5478,0.25],[30.5485,0.265],[30.5491,0.279],[30.5498,0.309],[30.5501,0.126],[30.5507,0.397],[30.5517,0.265],[30.5523,0.265],[30.5530,0.279],[30.5536,0.72],[30.5545,0.0],[30.5550,0.706],[30.5559,0.559],[30.5563,0.926],[30.5568,0.794],[30.5573,0.426],[30.5581,0.294],[30.5591,0.25],[30.5596,0.72],[30.5601,0.191],[30.5606,0.574],[30.5614,0.706],[30.5619,0.309],[30.5627,0.338],[30.5635,0.265],[30.5645,0.279],[30.5651,0.412],[30.5658,0.309],[30.5665,0.197],[30.5670,0.25],[30.5681,0.397],[30.5688,0.706],[30.5693,0.735],[30.5701,0.456],[30.5704,0.25],[30.5709,0.544],[30.5716,0.544],[30.5724,0.029],[30.5732,0.391],[30.5738,0.603],[30.5747,0.544],[30.5752,0.324],[30.5760,0.382],[30.5770,0.309],[30.5775,0.632],[30.5783,0.588],[30.5790,0.353],[30.5796,0.162],[30.5801,0.25],[30.5806,0.456],[30.5811,0.868],[30.5816,0.529],[30.5821,0.397],[30.5826,0.735],[30.5834,0.382],[30.5843,0.838],[30.5852,0.456],[30.5859,0.397],[30.5868,0.309],[30.5875,0.544],[30.5885,0.75],[30.5894,0.544],[30.5900,0.574],[30.5908,0.485],[30.5913,0.647],[30.5918,0.632],[30.5926,0.809],[30.5932,0.72],[30.5939,0.574],[30.5944,0.912],[30.5949,0.921],[30.5958,0.676],[30.5964,0.368],[30.5969,0.397],[30.5974,0.691],[30.5980,0.574],[30.5985,0.559],[30.5990,0.544],[30.5996,0.456],[30.6003,0.353],[30.6006,0.603],[30.6013,0.574],[30.6018,0.603],[30.6028,0.626],[30.6035,0.603],[30.6041,0.662],[30.6047,0.603],[30.6054,0.691],[30.6060,0.588],[30.6066,0.72],[30.6072,0.382],[30.6077,1.0],[30.6082,0.956],[30.6086,0.868],[30.6092,0.574],[30.6098,0.55],[30.6105,0.485],[30.6111,0.456],[30.6118,0.441],[30.6124,0.397],[30.6130,0.426],[30.6137,0.403],[30.6143,0.338],[30.6150,0.382],[30.6156,0.353],[30.6162,0.426],[30.6169,0.706],[30.6175,0.368],[30.6182,0.412],[30.6188,0.397],[30.6194,0.382],[30.6201,0.368],[30.6207,0.338],[30.6213,0.294],[30.6220,0.309],[30.6226,0.338],[30.6233,0.294],[30.6239,0.309],[30.6245,0.279],[30.6252,0.294],[30.6256,0.279],[30.6258,0.668],[30.6263,0.309],[30.6271,0.294],[30.6277,0.338],[30.6284,0.309],[30.6297,0.324],[30.6309,0.309],[30.6322,0.338],[30.6329,0.382],[30.6335,0.294],[30.6348,0.309],[30.6360,0.309],[30.6373,0.279],[30.6386,0.294],[30.6399,0.279],[30.6412,0.294],[30.6418,0.426],[30.6424,0.441],[30.6431,0.279],[30.6437,0.265],[30.6450,0.235],[30.6463,0.265],[30.6475,0.25],[30.6488,0.279],[30.6495,0.25],[30.6501,0.103],[30.6507,0.162],[30.6514,0.176],[30.6520,0.132],[30.6527,0.132],[30.6533,0.162],[30.6539,0.309],[30.6546,0.147],[30.6552,0.176],[30.6558,0.235],[30.6565,0.221],[30.6571,0.215],[30.6578,0.221],[30.6590,0.235],[30.6597,0.235],[30.6603,0.221],[30.6610,0.221],[30.6616,0.226],[30.6622,0.221],[30.6629,0.221],[30.6631,0.426]];

const aug26 = [[92.4768,0.427],[92.4775,0.441],[92.4781,0.437],[92.4787,0.444],[92.4794,0.419],[92.4800,0.427],[92.4806,0.414],[92.4813,0.410],[92.4819,0.400],[92.4825,0.410],[92.4832,0.419],[92.4838,0.427],[92.4844,0.423],[92.4851,0.433],[92.4857,0.414],[92.4864,0.423],[92.4870,0.410],[92.4876,0.403],[92.4883,0.400],[92.4889,0.410],[92.4895,0.419],[92.4902,0.414],[92.4908,0.427],[92.4914,0.433],[92.4921,0.444],[92.4927,0.441],[92.4933,0.460],[92.4940,0.454],[92.4946,0.464],[92.4952,0.460],[92.4959,0.471],[92.4965,0.468],[92.4971,0.478],[92.4978,0.484],[92.4984,0.474],[92.4991,0.482],[92.4997,0.487],[92.5003,0.491],[92.5007,0.505],[92.5012,0.484],[92.5020,0.471],[92.5025,0.482],[92.5032,0.487],[92.5037,0.498],[92.5045,0.505],[92.5050,0.512],[92.5058,0.523],[92.5063,0.525],[92.5071,0.512],[92.5076,0.505],[92.5083,0.495],[92.5088,0.501],[92.5096,0.505],[92.5101,0.512],[92.5109,0.498],[92.5114,0.487],[92.5121,0.482],[92.5126,0.491],[92.5134,0.505],[92.5139,0.512],[92.5147,0.518],[92.5152,0.525],[92.5159,0.536],[92.5164,0.546],[92.5172,0.553],[92.5177,0.539],[92.5185,0.559],[92.5190,0.573],[92.5198,0.580],[92.5203,0.577],[92.5210,0.583],[92.5215,0.587],[92.5220,0.662],[92.5225,0.668],[92.5231,0.689],[92.5236,0.675],[92.5241,0.648],[92.5245,0.686],[92.5251,0.691],[92.5257,0.700],[92.5264,0.702],[92.5270,0.709],[92.5276,0.716],[92.5281,0.675],[92.5286,0.723],[92.5291,0.716],[92.5295,0.730],[92.5302,0.736],[92.5308,0.743],[92.5314,0.746],[92.5321,0.757],[92.5325,0.770],[92.5330,0.777],[92.5335,0.798],[92.5340,0.818],[92.5346,0.828],[92.5352,0.839],[92.5359,0.845],[92.5365,0.828],[92.5372,0.811],[92.5378,0.805],[92.5384,0.809],[92.5391,0.814],[92.5397,0.805],[92.5403,0.818],[92.5410,0.811],[92.5416,0.822],[92.5422,0.825],[92.5429,0.818],[92.5435,0.811],[92.5441,0.805],[92.5448,0.798],[92.5454,0.784],[92.5460,0.773],[92.5467,0.777],[92.5473,0.768],[92.5479,0.770],[92.5486,0.757],[92.5492,0.743],[92.5499,0.750],[92.5505,0.736],[92.5511,0.730],[92.5518,0.741],[92.5524,0.723],[92.5530,0.716],[92.5537,0.723],[92.5543,0.709],[92.5549,0.702],[92.5556,0.700],[92.5562,0.705],[92.5568,0.716],[92.5575,0.723],[92.5581,0.709],[92.5587,0.696],[92.5594,0.682],[92.5600,0.675],[92.5606,0.668],[92.5613,0.655],[92.5619,0.662],[92.5625,0.651],[92.5632,0.641],[92.5638,0.634],[92.5645,0.623],[92.5651,0.614],[92.5657,0.607],[92.5664,0.593],[92.5670,0.587],[92.5676,0.573],[92.5683,0.566],[92.5689,0.553],[92.5695,0.546],[92.5702,0.532],[92.5708,0.525],[92.5714,0.518],[92.5721,0.512],[92.5727,0.523],[92.5733,0.532],[92.5740,0.539],[92.5746,0.528],[92.5752,0.536],[92.5759,0.546],[92.5765,0.542],[92.5772,0.550],[92.5778,0.553],[92.5784,0.539],[92.5791,0.532],[92.5797,0.536],[92.5803,0.512],[92.5810,0.498],[92.5816,0.495],[92.5822,0.491],[92.5829,0.495],[92.5835,0.491],[92.5841,0.495],[92.5848,0.487],[92.5854,0.484],[92.5860,0.491],[92.5867,0.495],[92.5873,0.498],[92.5879,0.505],[92.5886,0.512],[92.5892,0.518],[92.5899,0.525],[92.5905,0.546],[92.5911,0.566],[92.5918,0.553],[92.5924,0.532],[92.5930,0.512],[92.5937,0.495],[92.5943,0.498],[92.5949,0.512]];

const sep20 = [[16.5115,0.457],[16.5120,0.463],[16.5125,0.450],[16.5130,0.436],[16.5137,0.423],[16.5143,0.416],[16.5149,0.414],[16.5156,0.409],[16.5162,0.403],[16.5168,0.400],[16.5175,0.403],[16.5181,0.409],[16.5187,0.430],[16.5194,0.441],[16.5200,0.432],[16.5206,0.443],[16.5213,0.450],[16.5219,0.454],[16.5225,0.463],[16.5229,0.470],[16.5234,0.457],[16.5238,0.477],[16.5242,0.427],[16.5247,0.463],[16.5251,0.443],[16.5257,0.441],[16.5264,0.446],[16.5270,0.450],[16.5276,0.454],[16.5283,0.463],[16.5289,0.446],[16.5295,0.441],[16.5302,0.443],[16.5308,0.436],[16.5314,0.443],[16.5321,0.441],[16.5327,0.432],[16.5333,0.436],[16.5340,0.441],[16.5346,0.450],[16.5352,0.443],[16.5359,0.446],[16.5365,0.457],[16.5371,0.495],[16.5378,0.463],[16.5384,0.477],[16.5391,0.470],[16.5397,0.491],[16.5403,0.477],[16.5410,0.504],[16.5416,0.508],[16.5422,0.518],[16.5429,0.524],[16.5435,0.531],[16.5441,0.535],[16.5448,0.545],[16.5454,0.549],[16.5460,0.551],[16.5467,0.549],[16.5473,0.565],[16.5479,0.572],[16.5486,0.558],[16.5492,0.565],[16.5498,0.572],[16.5505,0.562],[16.5511,0.572],[16.5518,0.568],[16.5524,0.578],[16.5530,0.549],[16.5537,0.551],[16.5543,0.565],[16.5549,0.585],[16.5556,0.592],[16.5562,0.626],[16.5568,0.639],[16.5575,0.646],[16.5581,0.643],[16.5585,0.653],[16.5587,0.770],[16.5592,0.673],[16.5598,0.700],[16.5603,0.693],[16.5608,0.684],[16.5613,0.700],[16.5618,0.686],[16.5623,0.754],[16.5628,0.693],[16.5633,0.700],[16.5638,0.713],[16.5645,0.707],[16.5651,0.727],[16.5657,0.740],[16.5664,0.747],[16.5670,0.754],[16.5676,0.761],[16.5683,0.740],[16.5689,0.801],[16.5695,0.754],[16.5702,0.747],[16.5707,0.794],[16.5712,0.815],[16.5717,0.822],[16.5722,0.832],[16.5727,0.819],[16.5733,0.794],[16.5740,0.801],[16.5746,0.788],[16.5752,0.801],[16.5759,0.808],[16.5765,0.788],[16.5772,0.794],[16.5778,0.815],[16.5784,0.794],[16.5791,0.788],[16.5797,0.774],[16.5803,0.770],[16.5810,0.765],[16.5816,0.774],[16.5822,0.781],[16.5829,0.761],[16.5835,0.740],[16.5841,0.747],[16.5848,0.734],[16.5854,0.720],[16.5860,0.707],[16.5867,0.693],[16.5873,0.684],[16.5879,0.680],[16.5886,0.666],[16.5892,0.659],[16.5899,0.646],[16.5905,0.643],[16.5911,0.626],[16.5918,0.592],[16.5924,0.639],[16.5930,0.622],[16.5937,0.666],[16.5943,0.612],[16.5949,0.605],[16.5956,0.592],[16.5962,0.599],[16.5968,0.605],[16.5975,0.592],[16.5981,0.585],[16.5987,0.599],[16.5994,0.585],[16.6000,0.578],[16.6006,0.576],[16.6013,0.592],[16.6019,0.599],[16.6026,0.585],[16.6032,0.562],[16.6038,0.554],[16.6045,0.565],[16.6051,0.551],[16.6057,0.545],[16.6064,0.535],[16.6070,0.541],[16.6076,0.522],[16.6083,0.527],[16.6089,0.531],[16.6095,0.518],[16.6102,0.524],[16.6108,0.531],[16.6114,0.538],[16.6121,0.576],[16.6127,0.522],[16.6133,0.518],[16.6140,0.508],[16.6146,0.497],[16.6153,0.508],[16.6159,0.504],[16.6165,0.491],[16.6172,0.497],[16.6178,0.481],[16.6184,0.592],[16.6191,0.504],[16.6197,0.491],[16.6203,0.495],[16.6210,0.481],[16.6216,0.484],[16.6222,0.470],[16.6229,0.463],[16.6235,0.457],[16.6241,0.454],[16.6248,0.450],[16.6254,0.447],[16.6260,0.538],[16.6265,0.511],[16.6271,0.592],[16.6276,0.558],[16.6281,0.551],[16.6286,0.545],[16.6291,0.524],[16.6296,0.484],[16.6300,0.463],[16.6305,0.511],[16.6311,0.531]];

const jun20 = [[89.7403,0.74],[89.7412,0.72],[89.7421,0.76],[89.7431,0.73],[89.7444,0.70],[89.7458,0.68],[89.7472,0.66],[89.7486,0.67],[89.7500,0.64],[89.7513,0.65],[89.7527,0.62],[89.7541,0.60],[89.7555,0.59],[89.7569,0.62],[89.7583,0.64],[89.7596,0.66],[89.7610,0.64],[89.7624,0.67],[89.7638,0.69],[89.7652,0.68],[89.7666,0.70],[89.7679,0.72],[89.7693,0.69],[89.7707,0.67],[89.7721,0.70],[89.7735,0.72],[89.7749,0.70],[89.7762,0.68],[89.7776,0.70],[89.7790,0.67],[89.7804,0.66],[89.7818,0.68],[89.7832,0.70],[89.7845,0.67],[89.7859,0.68],[89.7873,0.70],[89.7887,0.67],[89.7901,0.69],[89.7915,0.68],[89.7928,0.71],[89.7942,0.69],[89.7956,0.68],[89.7970,0.70],[89.7984,0.72],[89.7998,0.74],[89.8011,0.75],[89.8025,0.73],[89.8039,0.76],[89.8053,0.75],[89.8067,0.78],[89.8081,0.77],[89.8094,0.79],[89.8108,0.80],[89.8122,0.78],[89.8136,0.80],[89.8150,0.83],[89.8163,0.81],[89.8177,0.84],[89.8191,0.86],[89.8200,0.92],[89.8210,0.96],[89.8219,0.99],[89.8228,1.01],[89.8237,0.97],[89.8246,1.00],[89.8256,0.98],[89.8265,1.02],[89.8274,0.99],[89.8283,0.96],[89.8293,1.00],[89.8302,0.97],[89.8311,0.99],[89.8320,0.95],[89.8329,0.92],[89.8339,0.90],[89.8348,0.91],[89.8357,0.90],[89.8366,0.91],[89.8376,0.88],[89.8385,0.90],[89.8394,0.88],[89.8403,0.86],[89.8412,0.85],[89.8422,0.83],[89.8431,0.82],[89.8440,0.80],[89.8449,0.79],[89.8459,0.77],[89.8468,0.76],[89.8477,0.75],[89.8486,0.73],[89.8495,0.72],[89.8505,0.71],[89.8514,0.70],[89.8523,0.69],[89.8532,0.67],[89.8542,0.68],[89.8551,0.66],[89.8560,0.64],[89.8569,0.65],[89.8578,0.63],[89.8588,0.61],[89.8597,0.62],[89.8606,0.60],[89.8615,0.61],[89.8624,0.60],[89.8634,0.62],[89.8643,0.58],[89.8652,0.60],[89.8661,0.57],[89.8671,0.56],[89.8680,0.58],[89.8689,0.57],[89.8698,0.60],[89.8707,0.58],[89.8717,0.62],[89.8726,0.58],[89.8735,0.66],[89.8744,0.60],[89.8754,0.67],[89.8763,0.61],[89.8772,0.69],[89.8781,0.62],[89.8790,0.66],[89.8800,0.60],[89.8804,0.74],[89.8809,0.62]];

const jul07 = [[2.6583,0.312],[2.6594,0.305],[2.6604,0.309],[2.6614,0.303],[2.6624,0.311],[2.6634,0.300],[2.6645,0.304],[2.6655,0.296],[2.6665,0.301],[2.6675,0.293],[2.6685,0.298],[2.6696,0.289],[2.6706,0.292],[2.6716,0.284],[2.6726,0.288],[2.6736,0.276],[2.6747,0.279],[2.6757,0.270],[2.6767,0.276],[2.6777,0.266],[2.6787,0.269],[2.6798,0.261],[2.6808,0.265],[2.6818,0.258],[2.6828,0.264],[2.6838,0.255],[2.6848,0.259],[2.6859,0.251],[2.6869,0.254],[2.6879,0.246],[2.6889,0.250],[2.6899,0.241],[2.6910,0.245],[2.6920,0.236],[2.6930,0.239],[2.6940,0.230],[2.6950,0.233],[2.6961,0.224],[2.6971,0.227],[2.6981,0.219],[2.6991,0.222],[2.7001,0.212],[2.7012,0.215],[2.7022,0.206],[2.7032,0.209],[2.7042,0.200],[2.7052,0.204],[2.7062,0.195],[2.7073,0.198],[2.7083,0.190],[2.7093,0.193],[2.7103,0.184],[2.7113,0.188],[2.7124,0.179],[2.7134,0.182],[2.7144,0.174],[2.7154,0.177],[2.7164,0.168],[2.7175,0.172],[2.7185,0.162],[2.7195,0.166],[2.7205,0.156],[2.7215,0.160],[2.7226,0.152],[2.7236,0.161],[2.7246,0.153],[2.7256,0.160],[2.7266,0.155],[2.7277,0.164],[2.7287,0.157],[2.7297,0.165],[2.7307,0.159],[2.7317,0.168],[2.7328,0.162],[2.7338,0.170],[2.7348,0.164],[2.7358,0.171],[2.7368,0.167],[2.7379,0.176],[2.7389,0.172],[2.7399,0.181],[2.7409,0.184],[2.7419,0.193],[2.7430,0.196],[2.7440,0.205],[2.7450,0.212],[2.7460,0.224],[2.7470,0.236],[2.7480,0.250],[2.7491,0.263],[2.7501,0.278],[2.7511,0.292],[2.7521,0.308],[2.7532,0.322],[2.7542,0.336],[2.7552,0.347],[2.7562,0.358],[2.7572,0.368],[2.7582,0.379],[2.7593,0.388],[2.7603,0.398],[2.7613,0.406],[2.7623,0.414],[2.7633,0.420],[2.7643,0.428],[2.7654,0.433],[2.7664,0.440],[2.7674,0.444],[2.7684,0.450],[2.7694,0.453],[2.7705,0.460],[2.7715,0.462],[2.7725,0.466],[2.7735,0.460],[2.7745,0.457],[2.7756,0.450],[2.7766,0.446],[2.7776,0.435],[2.7786,0.424],[2.7796,0.412],[2.7807,0.402],[2.7817,0.396],[2.7827,0.391],[2.7837,0.388],[2.7847,0.386],[2.7858,0.380],[2.7868,0.372],[2.7878,0.360],[2.7888,0.346],[2.7898,0.333],[2.7909,0.322],[2.7919,0.311],[2.7929,0.302],[2.7939,0.296],[2.7949,0.290],[2.7960,0.282],[2.7970,0.276],[2.7980,0.270],[2.7990,0.266],[2.8000,0.260],[2.8010,0.256],[2.8021,0.250],[2.8031,0.246],[2.8041,0.240],[2.8051,0.236],[2.8061,0.230],[2.8071,0.226],[2.8082,0.221],[2.8092,0.216],[2.8102,0.211],[2.8112,0.206],[2.8122,0.201],[2.8133,0.196],[2.8143,0.191],[2.8153,0.187],[2.8163,0.183],[2.8173,0.180],[2.8184,0.175],[2.8194,0.171],[2.8204,0.168],[2.8214,0.165],[2.8224,0.162],[2.8235,0.160]];

const aug20 = [[12.4838,1.25],[12.4847,1.24],[12.4856,1.235],[12.4865,1.24],[12.4875,1.225],[12.4884,1.22],[12.4893,1.21],[12.4903,1.205],[12.4912,1.215],[12.4921,1.21],[12.4931,1.22],[12.4940,1.215],[12.4949,1.23],[12.4958,1.235],[12.4968,1.24],[12.4977,1.25],[12.4986,1.245],[12.4996,1.255],[12.5005,1.26],[12.5014,1.265],[12.5024,1.27],[12.5033,1.265],[12.5042,1.275],[12.5052,1.28],[12.5061,1.275],[12.5070,1.285],[12.5079,1.29],[12.5089,1.285],[12.5098,1.295],[12.5107,1.30],[12.5117,1.31],[12.5126,1.31],[12.5135,1.32],[12.5144,1.33],[12.5154,1.34],[12.5163,1.36],[12.5172,1.37],[12.5182,1.39],[12.5191,1.42],[12.5200,1.44],[12.5210,1.47],[12.5219,1.50],[12.5228,1.52],[12.5237,1.55],[12.5247,1.58],[12.5256,1.60],[12.5265,1.615],[12.5275,1.625],[12.5284,1.63],[12.5293,1.635],[12.5303,1.645],[12.5312,1.66],[12.5321,1.67],[12.5330,1.685],[12.5340,1.70],[12.5349,1.71],[12.5358,1.725],[12.5368,1.74],[12.5377,1.75],[12.5386,1.765],[12.5396,1.78],[12.5405,1.79],[12.5414,1.80],[12.5423,1.81],[12.5433,1.815],[12.5442,1.82],[12.5451,1.805],[12.5461,1.815],[12.5470,1.80],[12.5479,1.775],[12.5489,1.74],[12.5498,1.70],[12.5507,1.66],[12.5516,1.62],[12.5526,1.585],[12.5535,1.55],[12.5544,1.52],[12.5554,1.49],[12.5563,1.47],[12.5572,1.45],[12.5582,1.43],[12.5591,1.41],[12.5600,1.40],[12.5609,1.385],[12.5619,1.37],[12.5628,1.36],[12.5637,1.345],[12.5647,1.335],[12.5656,1.32],[12.5665,1.31],[12.5675,1.30],[12.5684,1.29],[12.5693,1.28],[12.5702,1.275],[12.5712,1.26],[12.5721,1.255],[12.5730,1.245],[12.5740,1.235],[12.5749,1.225],[12.5758,1.23],[12.5768,1.22],[12.5777,1.215],[12.5786,1.21],[12.5795,1.205],[12.5805,1.20],[12.5814,1.205],[12.5823,1.20],[12.5833,1.195],[12.5842,1.19],[12.5851,1.195],[12.5861,1.19],[12.5870,1.185],[12.5879,1.18],[12.5888,1.185],[12.5898,1.18],[12.5907,1.175],[12.5916,1.17],[12.5926,1.175],[12.5935,1.17],[12.5944,1.165],[12.5954,1.16],[12.5963,1.165],[12.5972,1.16],[12.5981,1.155],[12.5991,1.15],[12.6000,1.155],[12.6009,1.16],[12.6019,1.165],[12.6028,1.17],[12.6037,1.175],[12.6047,1.18],[12.6056,1.19],[12.6065,1.19],[12.6074,1.20],[12.6084,1.20],[12.6093,1.21],[12.6102,1.215],[12.6112,1.22],[12.6121,1.225],[12.6130,1.23],[12.6140,1.235],[12.6149,1.24],[12.6158,1.245],[12.6167,1.25],[12.6177,1.255],[12.6186,1.26],[12.6195,1.265],[12.6205,1.27],[12.6214,1.27],[12.6223,1.28],[12.6233,1.28],[12.6242,1.285],[12.6251,1.29],[12.6260,1.29],[12.6270,1.295],[12.6279,1.30],[12.6288,1.31],[12.6298,1.32],[12.6307,1.33],[12.6316,1.34],[12.6326,1.35],[12.6335,1.37],[12.6344,1.385],[12.6353,1.40]];

// ---- Panel labels, axis titles and tick values ----
const nightLabels = ["2014 Mar 30 (I-band)","2014 Apr 01 (I-band)","2014 Jul 21 (I-band)",
  "2014 Aug 04 (I-band)","2014 Aug 07 (I-band)","2014 Aug 15 (I-band)",
  "2016 Jun 11 (I-band)","2016 Jul 08 (R-band)","2016 Oct 01 (I-band)",
  "2017 Jun 26 (I-band)","2017 Aug 26 (I-band)","2017 Sep 20 (I-band)",
  "2018 Jun 20 (I-band)","2021 Jul 07 (I-band)","2022 Aug 20 (I-band)"];
const xTitles = ["HJD-2456700","HJD-2456700","HJD-2456800","HJD-2456800","HJD-2456800","HJD-2456800",
  "HJD-2457500","HJD-2457500","HJD-2457600","HJD-2457900","HJD-2457900","HJD-2458000",
  "HJD-2458200","HJD-2459400","HJD-2459800"];
const xTickValues = [
  [46.76,46.80,46.84],[48.88,48.90,48.92],[59.60,59.65,59.70,59.75,59.80,59.85],
  [73.58,73.60,73.62,73.64],[76.66,76.68,76.70,76.72,76.74,76.76],[84.54,84.56,84.58,84.60,84.62],
  [50.55,50.60,50.65,50.70,50.75,50.80],[77.68,77.72,77.76,77.80,77.84],[63.48,63.52,63.56,63.60],
  [30.56,30.60,30.64,30.68],[92.48,92.52,92.56,92.60],[16.52,16.56,16.60,16.64],
  [89.72,89.76,89.80,89.84,89.88],[2.64,2.68,2.72,2.76,2.80],[12.48,12.52,12.56,12.60,12.64]];
const yTickValues = [
  [0.4,0.5,0.6,0.7,0.8,0.9],[0.4,0.5,0.6,0.7],[0.4,0.5,0.6,0.7,0.8,0.9,1.0],
  [0.4,0.5,0.6,0.7,0.8,0.9],[0.2,0.4,0.6,0.8,1.0,1.2],[0.0,0.1,0.2,0.3,0.4,0.5,0.6],
  [0.3,0.4,0.5,0.6,0.7,0.8,0.9],[-0.1,0.0,0.1,0.2,0.3,0.4],[0.2,0.3,0.4,0.5],
  [0.0,0.2,0.4,0.6,0.8,1.0],[0.4,0.5,0.6,0.7,0.8,0.9],[0.4,0.5,0.6,0.7,0.8,0.9],
  [0.5,0.6,0.7,0.8,0.9,1.0,1.1],[0.1,0.2,0.3,0.4,0.5],[1.1,1.2,1.3,1.4,1.5,1.6,1.7,1.8,1.9]];

const series = [mar30, apr01, jul21, aug04, aug07, aug15, jun11, jul08, oct01, jun26, aug26, sep20, jun20, jul07, aug20];

// ---- Scale / layout settings for each panel ----
const axes = [
  {xd:[46.737,46.855], xm:0.02,  yd:[0.352,0.9],   ym:0.05, lab:["bl",7,12]},
  {xd:[48.870,48.9296],xm:0.01,  yd:[0.352,0.7],   ym:0.05, lab:["br",7,5]},
  {xd:[59.60,59.85],   xm:0.025, yd:[0.351,1.061], ym:0.05, lab:["bl",10,5]},
  {xd:[73.5624,73.643],xm:0.01,  yd:[0.348,0.952], ym:0.05, lab:["bl",12,10]},
  {xd:[76.66,76.7707], xm:0.01,  yd:[0.096,1.295], ym:0.1,  lab:["bl",10,5]},
  {xd:[84.54,84.62],   xm:0.01,  yd:[0.0,0.648],   ym:0.05, lab:["bl",9,7]},
  {xd:[50.546,50.825], xm:0.025, yd:[0.24,0.9],    ym:0.05, lab:["br",11,7], r:3.0},
  {xd:[77.68,77.80,77.84,77.8457], xf:[0,0.6067,0.9512,1], xminor:[77.70,77.74,77.78,77.82], yd:[-0.154,0.445], ym:0.05, lab:["bl",6,4]},
  {xd:[63.48,63.630],  xm:0.02,  yd:[0.1725,0.522],ym:0.05, lab:["bl",10,5]},
  {xd:[30.53,30.68],   xm:0.02,  yd:[-0.106,1.103],ym:0.1,  lab:["br",10,5]},
  {xd:[92.4623,92.6108],xm:0.02, yd:[0.347,0.907], ym:0.05, lab:["bl",8,5]},
  {xd:[16.4995,16.6485],xm:0.02, yd:[0.347,0.903], ym:0.05, lab:["bl",10,8]},
  {xd:[89.72,89.90],   xm:0.02,  yd:[0.5,1.1],     ym:0.05, lab:["bl",6,5], r:2.3},
  {xd:[2.64,2.838],    xm:0.02,  yd:[0.1,0.509],   ym:0.05, lab:["bl",4,6], r:2.3},
  {xd:[12.4698,12.6516],xm:0.02, yd:[1.1,1.91],    ym:0.05, lab:["bl",8,6], r:2.3}
];
const cols = [{x:43,w:390},{x:462,w:389},{x:878,w:391}];
const rows = [{y:4,h:136},{y:180,h:135},{y:356,h:136},{y:533,h:137},{y:710,h:138}];

const svg = d3.select("#fig");

function minorTicks(lo, hi, step, majors) {
  const out = [];
  for (let k = Math.ceil(lo / step - 1e-6); k * step <= hi + 1e-9; k++) {
    const v = +(k * step).toFixed(6);
    if (!majors.some(m => Math.abs(m - v) < step * 1e-3)) out.push(v);
  }
  return out;
}

function styleAxis(sel) {
  sel.select(".domain").remove();
  sel.selectAll(".tick line").attr("stroke", "#333").attr("stroke-width", 1);
  sel.selectAll(".tick text").attr("fill", "#1a1a1a").style("font-size", "14px")
     .style("font-family", '"Liberation Sans", Arial, sans-serif');
}

series.forEach((data, i) => {
  const a = axes[i];
  const col = cols[i % 3], row = rows[Math.floor(i / 3)];
  const W = col.w, H = row.h;
  const g = svg.append("g").attr("transform", `translate(${col.x},${row.y})`);

  const x = d3.scaleLinear().domain(a.xd).range(a.xf ? a.xf.map(f => f * W) : [0, W]);
  const y = d3.scaleLinear().domain(a.yd).range([0, H]);

  const xLo = a.xd[0], xHi = a.xd[a.xd.length - 1];
  const xMaj = xTickValues[i], yMaj = yTickValues[i];
  const xMin = a.xminor || minorTicks(xLo, xHi, a.xm, xMaj);
  const yMin = minorTicks(a.yd[0], a.yd[1], a.ym, yMaj);

  // inward ticks on all four sides
  styleAxis(g.append("g").attr("transform", `translate(0,${H})`)
    .call(d3.axisBottom(x).tickValues(xMaj).tickSize(-5).tickPadding(4).tickFormat(v => v.toFixed(2))));
  styleAxis(g.append("g").attr("transform", `translate(0,${H})`)
    .call(d3.axisBottom(x).tickValues(xMin).tickSize(-3).tickFormat("")));
  styleAxis(g.append("g").call(d3.axisTop(x).tickValues(xMaj).tickSize(-5).tickFormat("")));
  styleAxis(g.append("g").call(d3.axisTop(x).tickValues(xMin).tickSize(-3).tickFormat("")));
  styleAxis(g.append("g")
    .call(d3.axisLeft(y).tickValues(yMaj).tickSize(-5).tickPadding(4).tickFormat(v => v.toFixed(1))));
  styleAxis(g.append("g").call(d3.axisLeft(y).tickValues(yMin).tickSize(-3).tickFormat("")));
  styleAxis(g.append("g").attr("transform", `translate(${W},0)`)
    .call(d3.axisRight(y).tickValues(yMaj).tickSize(-5).tickFormat("")));
  styleAxis(g.append("g").attr("transform", `translate(${W},0)`)
    .call(d3.axisRight(y).tickValues(yMin).tickSize(-3).tickFormat("")));

  // light curve: connecting line + filled markers
  const line = d3.line().x(d => x(d[0])).y(d => y(d[1]));
  g.append("path").datum(data).attr("d", line)
    .attr("fill", "none").attr("stroke", "#1a1a1a").attr("stroke-width", 0.9);
  g.append("g").selectAll("circle").data(data).join("circle")
    .attr("cx", d => x(d[0])).attr("cy", d => y(d[1]))
    .attr("r", a.r || 2.1).attr("fill", "#111");

  // frame
  g.append("rect").attr("width", W).attr("height", H)
    .attr("fill", "none").attr("stroke", "#333").attr("stroke-width", 1.2);

  // night label in a box
  const lbl = g.append("g");
  const txt = lbl.append("text").text(nightLabels[i]).style("font-size", "13px").attr("fill", "#111");
  const bb = txt.node().getBBox();
  const bw = bb.width + 8, bh = 20;
  const [side, dx, gap] = a.lab;
  const bx = side === "bl" ? dx : W - dx - bw;
  const by = H - gap - bh;
  lbl.insert("rect", "text").attr("x", bx).attr("y", by).attr("width", bw).attr("height", bh)
    .attr("fill", "#fff").attr("stroke", "#333").attr("stroke-width", 1);
  txt.attr("x", bx + 4).attr("y", by + 15);

  // axis titles
  g.append("text").attr("x", W / 2).attr("y", H + 33).attr("text-anchor", "middle")
    .style("font-size", "14px").attr("fill", "#1a1a1a").text(xTitles[i]);
  if (i % 3 === 0) {
    g.append("text").attr("transform", `translate(${-26},${H / 2}) rotate(-90)`)
      .attr("text-anchor", "middle").style("font-size", "14px").attr("fill", "#1a1a1a").text("Δmag");
  }
});

// faint diagonal stamp laid over the whole figure
svg.append("text")
  .attr("transform", "translate(715,530) rotate(-50)")
  .attr("text-anchor", "middle").attr("dominant-baseline", "central")
  .style("font-size", "205px").attr("fill", "#cfcfcf").attr("opacity", 0.33)
  .text("For Peer Review");
</script>
</body>
</html>
